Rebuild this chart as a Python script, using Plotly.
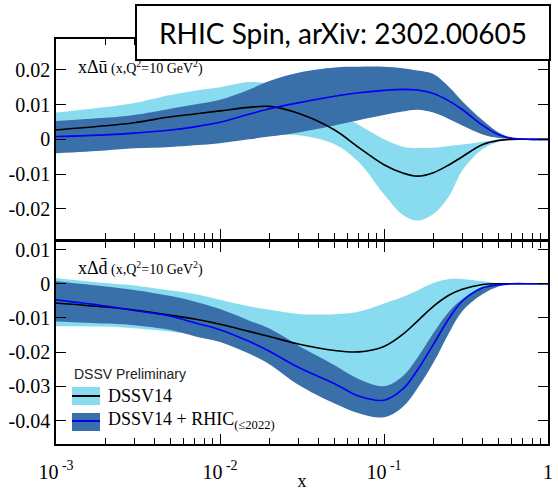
import plotly.graph_objects as go

# ---------------- data ----------------
x = [0.001, 0.002, 0.003, 0.005, 0.007, 0.01, 0.015, 0.02, 0.03, 0.05, 0.07,
     0.1, 0.13, 0.16, 0.2, 0.25, 0.3, 0.4, 0.5, 0.6, 0.8, 1.0]

# top panel: x Delta ubar
ubar_dssv = [0.0027, 0.0039, 0.0048, 0.0065, 0.0073, 0.0082, 0.0092, 0.0095, 0.0075, 0.0027, -0.0023,
             -0.0073, -0.0097, -0.0106, -0.0096, -0.0073, -0.0050, -0.0015, -0.0003, 0, 0, 0]
ubar_dssv_hi = [0.0077, 0.0093, 0.0105, 0.0128, 0.0140, 0.0150, 0.0165, 0.0160, 0.0130, 0.0080, 0.0042,
                0.0000, -0.0021, -0.0025, -0.0024, -0.0019, -0.0015, -0.0007, -0.0002, 0, 0, 0]
ubar_dssv_lo = [-0.0020, -0.0012, -0.0005, 0.0002, 0.0005, 0.0010, 0.0015, 0.0012, 0.0012, -0.0014, -0.0065,
                -0.0158, -0.0217, -0.0234, -0.0215, -0.0163, -0.0090, -0.0028, -0.0007, -0.0001, 0, 0]
ubar_rhic = [0.0008, 0.0013, 0.0018, 0.0027, 0.0036, 0.0049, 0.0072, 0.0088, 0.0105, 0.0124, 0.0134,
             0.0141, 0.0144, 0.0142, 0.0132, 0.0110, 0.0086, 0.0040, 0.0013, 0.0003, 0, 0]
ubar_rhic_hi = [0.0053, 0.0062, 0.0070, 0.0088, 0.0100, 0.0114, 0.0143, 0.0168, 0.0192, 0.0207, 0.0209,
                0.0209, 0.0205, 0.0198, 0.0188, 0.0150, 0.0110, 0.0055, 0.0020, 0.0005, 0, 0]
ubar_rhic_lo = [-0.0040, -0.0032, -0.0026, -0.0022, -0.0017, -0.0011, 0.0000, 0.0008, 0.0020, 0.0040, 0.0055,
                0.0070, 0.0080, 0.0085, 0.0077, 0.0058, 0.0040, 0.0014, 0.0004, 0.0001, 0, 0]

# bottom panel: x Delta dbar
dbar_dssv = [-0.0056, -0.0068, -0.0077, -0.0092, -0.0103, -0.0118, -0.0139, -0.0154, -0.0176, -0.0195, -0.0199,
             -0.0183, -0.0148, -0.0109, -0.0066, -0.0033, -0.0016, -0.0002, 0, 0, 0, 0]
dbar_dssv_hi = [0.0017, 0.0002, -0.0005, -0.0020, -0.0030, -0.0047, -0.0066, -0.0076, -0.0088, -0.0089, -0.0082,
                -0.0058, -0.0039, -0.0020, 0.0002, 0.0014, 0.0014, 0.0007, 0.0001, 0, 0, 0]
dbar_dssv_lo = [-0.0124, -0.0125, -0.0130, -0.0140, -0.0148, -0.0160, -0.0185, -0.0205, -0.0250, -0.0295, -0.0320,
                -0.0330, -0.0300, -0.0250, -0.0180, -0.0110, -0.0060, -0.0018, -0.0004, 0, 0, 0]
dbar_rhic = [-0.0047, -0.0065, -0.0078, -0.0095, -0.0114, -0.0134, -0.0168, -0.0197, -0.0244, -0.0292, -0.0328,
             -0.0340, -0.0308, -0.0252, -0.0177, -0.0100, -0.0051, -0.0012, -0.0003, 0, 0, 0]
dbar_rhic_hi = [0.0007, -0.0008, -0.0018, -0.0036, -0.0052, -0.0074, -0.0107, -0.0131, -0.0180, -0.0238, -0.0278,
                -0.0299, -0.0270, -0.0216, -0.0144, -0.0080, -0.0045, -0.0009, -0.0001, 0, 0, 0]
dbar_rhic_lo = [-0.0110, -0.0116, -0.0121, -0.0135, -0.0153, -0.0170, -0.0204, -0.0235, -0.0295, -0.0350, -0.0378,
                -0.0390, -0.0360, -0.0305, -0.0231, -0.0142, -0.0080, -0.0030, -0.0008, -0.0001, 0, 0]

x_tickvals = [0.001, 0.01, 0.1, 1]
x_ticktext = ["10<sup> -3</sup>", "10<sup> -2</sup>", "10<sup> -1</sup>", "1"]
x_minor = [k * 10.0 ** e for e in (-3, -2, -1) for k in range(2, 10)]
top_yvals = [0.02, 0.01, 0, -0.01, -0.02]
top_ytext = ["0.02", "0.01", "0", "-0.01", "-0.02"]
bot_yvals = [0.01, 0, -0.01, -0.02, -0.03, -0.04]
bot_ytext = ["0.01", "0", "-0.01", "-0.02", "-0.03", "-0.04"]

LIGHT = "#89DBF0"
DARK = "#3A70AA"
BLUE = "#0000F5"
SERIF = "Liberation Serif"

fig = go.Figure()


def add_panel(xa, ya, c_dssv, hi_dssv, lo_dssv, c_rhic, hi_rhic, lo_rhic):
    common = dict(x=x, xaxis=xa, yaxis=ya, mode="lines", showlegend=False,
                  hoverinfo="skip", line_shape="spline")
    fig.add_trace(go.Scatter(y=lo_dssv, line=dict(width=0, color=LIGHT), **common))
    fig.add_trace(go.Scatter(y=hi_dssv, line=dict(width=0, color=LIGHT),
                             fill="tonexty", fillcolor=LIGHT, **common))
    fig.add_trace(go.Scatter(y=lo_rhic, line=dict(width=0, color=DARK), **common))
    fig.add_trace(go.Scatter(y=hi_rhic, line=dict(width=0, color=DARK),
                             fill="tonexty", fillcolor=DARK, **common))
    fig.add_trace(go.Scatter(y=c_dssv, line=dict(width=1.6, color="black"), **common))
    fig.add_trace(go.Scatter(y=c_rhic, line=dict(width=1.6, color=BLUE), **common))


add_panel("x2", "y2", ubar_dssv, ubar_dssv_hi, ubar_dssv_lo, ubar_rhic, ubar_rhic_hi, ubar_rhic_lo)
add_panel("x", "y", dbar_dssv, dbar_dssv_hi, dbar_dssv_lo, dbar_rhic, dbar_rhic_hi, dbar_rhic_lo)

axis_common = dict(showline=True, linecolor="black", linewidth=1.5, mirror="allticks",
                   ticks="inside", tickcolor="black", tickwidth=1.2, showgrid=False,
                   zeroline=False, automargin=False)
xcommon = dict(axis_common, type="log", range=[-3, 0], tickmode="array",
               tickvals=x_tickvals, ticktext=x_ticktext, ticklen=10,
               minor=dict(tickmode="array", tickvals=x_minor, ticks="inside",
                          ticklen=6, tickcolor="black", tickwidth=1.2, showgrid=False))

fig.update_layout(
    width=558, height=491,
    margin=dict(l=56, r=10, t=39, b=47, autoexpand=False),
    paper_bgcolor="white", plot_bgcolor="white",
    xaxis=dict(xcommon, domain=[0, 1], anchor="y", ticklabelstandoff=9,
               tickfont=dict(family=SERIF, size=20, color="black"),
               title=dict(text="x", font=dict(family=SERIF, size=18, color="black"), standoff=3)),
    xaxis2=dict(xcommon, domain=[0, 1], anchor="y2", matches="x", showticklabels=False),
    yaxis=dict(axis_common, domain=[0, 0.4988], range=[-0.0468, 0.0122], ticklen=10,
               tickmode="array", tickvals=bot_yvals, ticktext=bot_ytext,
               tickfont=dict(family=SERIF, size=20, color="black")),
    yaxis2=dict(axis_common, domain=[0.5062, 1], range=[-0.0287, 0.0289], ticklen=10,
                tickmode="array", tickvals=top_yvals, ticktext=top_ytext,
                tickfont=dict(family=SERIF, size=20, color="black")),
)

small = "<span style='font-size:14px'>"
fig.add_annotation(xref="x2 domain", yref="y2 domain", x=0.041, y=0.86, xanchor="left", yanchor="middle",
                   text="xΔū" + small + " (x,Q<sup>2</sup>=10 GeV<sup>2</sup>)</span>",
                   showarrow=False, font=dict(family=SERIF, size=18, color="black"))
fig.add_annotation(xref="x domain", yref="y domain", x=0.041, y=0.871, xanchor="left", yanchor="middle",
                   text="xΔd̄" + small + " (x,Q<sup>2</sup>=10 GeV<sup>2</sup>)</span>",
                   showarrow=False, font=dict(family=SERIF, size=18, color="black"))

# legend (drawn by hand to show band + central line swatches)
fig.add_annotation(xref="x domain", yref="y domain", x=0.033, y=0.3465, xanchor="left", yanchor="middle",
                   text="DSSV Preliminary", showarrow=False,
                   font=dict(family="Liberation Sans", size=14, color="#222"))
fig.add_shape(type="rect", xref="x domain", yref="y domain", x0=0.0325, x1=0.0894, y0=0.1931, y1=0.2822,
              fillcolor=LIGHT, line=dict(width=0))
fig.add_shape(type="line", xref="x domain", yref="y domain", x0=0.0325, x1=0.0894, y0=0.2376, y1=0.2376,
              line=dict(color="black", width=2))
fig.add_shape(type="rect", xref="x domain", yref="y domain", x0=0.0325, x1=0.0894, y0=0.0644, y1=0.1535,
              fillcolor=DARK, line=dict(width=0))
fig.add_shape(type="line", xref="x domain", yref="y domain", x0=0.0325, x1=0.0894, y0=0.1139, y1=0.1139,
              line=dict(color=BLUE, width=2))
fig.add_annotation(xref="x domain", yref="y domain", x=0.1016, y=0.2376, xanchor="left", yanchor="middle",
                   text="DSSV14", showarrow=False, font=dict(family=SERIF, size=18, color="black"))
fig.add_annotation(xref="x domain", yref="y domain", x=0.1016, y=0.1139, xanchor="left", yanchor="middle",
                   text="DSSV14 + RHIC<sub>(≤2022)</sub>", showarrow=False,
                   font=dict(family=SERIF, size=18, color="black"))

# title box
fig.add_annotation(xref="paper", yref="paper", x=0.5833, y=1.016, xanchor="center", yanchor="middle",
                   text="RHIC Spin, arXiv: 2302.00605", showarrow=False,
                   width=412, height=53, align="center", valign="middle",
                   bgcolor="white", bordercolor="black", borderwidth=2, borderpad=0,
                   font=dict(family="Lato", size=28, color="black"))

fig.write_html("out.html")
